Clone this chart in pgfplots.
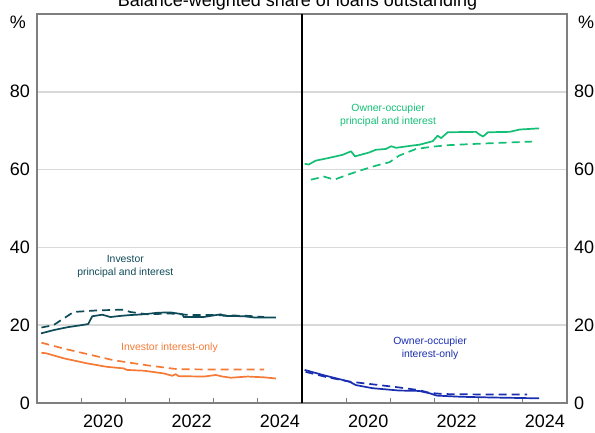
\documentclass[border=0pt]{standalone}
\usepackage{fontspec}
\setmainfont{Liberation Sans}
\usepackage{pgfplots}
\pgfplotsset{compat=1.18}

\definecolor{invpi}{HTML}{0E4A58}
\definecolor{invio}{HTML}{F47A36}
\definecolor{oopi}{HTML}{12BF74}
\definecolor{ooio}{HTML}{1A2EB0}
\definecolor{axgray}{HTML}{7F7F7F}
\definecolor{gridgray}{HTML}{D9D9D9}

\pgfplotsset{
  panel/.style={
    scale only axis, width=132.5pt, height=194.5pt,
    xmin=2019, xmax=2025, ymin=0, ymax=100,
    clip mode=individual,
    xtick={2020,...,2024}, xticklabels={},
    extra x ticks={2020.5,2022.5,2024.5},
    extra x tick labels={2020,2022,2024},
    extra x tick style={major tick length=0pt},
    xtick pos=left, tick align=inside, major tick length=2.5pt,
    xtick style={color=axgray, line width=0.5pt},
    ytick={0,20,...,80}, ytick style={draw=none},
    ymajorgrids, grid style={line width=0.8pt, color=gridgray},
    axis line style={axgray, line width=0.6pt},
    tick label style={font=\fontsize{9}{10}\selectfont},
    xticklabel style={yshift=-2.5pt},
    /pgf/number format/assume math mode=true,
  },
}
\tikzset{
  solid line/.style={line width=0.85pt, line join=round},
  dash line/.style={line width=0.85pt, dash pattern=on 4pt off 2.5pt},
  note/.style={font=\fontsize{5.2}{6.4}\selectfont, align=center},
}

\begin{document}
\begin{tikzpicture}
% left panel: investors
\begin{axis}[panel, at={(18.5pt,15pt)}, anchor=south west, yticklabel pos=left]
  \addplot[invpi, solid line] coordinates {
    (2019.09,17.9) (2019.4,18.8) (2019.7,19.5) (2020.0,20.0) (2020.16,20.3)
    (2020.25,22.3) (2020.48,22.7) (2020.66,22.1) (2020.9,22.4) (2021.11,22.6)
    (2021.41,22.8) (2021.73,23.2) (2022.02,23.3) (2022.30,22.8) (2022.32,22.1)
    (2022.77,22.1) (2023.16,22.8) (2023.23,22.4) (2023.68,22.3) (2023.91,22.0)
    (2024.41,22.0)
  };
  \addplot[invpi, dash line] coordinates {
    (2019.1,19.4) (2019.37,20.0) (2019.6,21.7) (2019.83,23.4) (2020.36,23.8)
    (2020.96,24.0) (2021.11,23.4) (2021.49,22.8) (2022.02,23.0) (2022.48,22.6)
    (2023.0,22.6) (2023.77,22.4) (2024.14,22.1)
  };
  \addplot[invio, solid line] coordinates {
    (2019.1,12.9) (2019.2,12.8) (2019.6,11.5) (2020.13,10.2) (2020.58,9.3)
    (2020.96,8.9) (2021.04,8.5) (2021.42,8.3) (2021.87,7.6) (2022.06,7.0)
    (2022.14,7.4) (2022.21,6.9) (2022.78,6.8) (2023.05,7.2) (2023.2,6.8)
    (2023.39,6.5) (2023.77,6.8) (2024.14,6.6) (2024.41,6.3)
  };
  \addplot[invio, dash line] coordinates {
    (2019.1,15.5) (2019.6,14.0) (2020.13,12.6) (2020.73,11.0) (2021.49,9.7)
    (2022.17,8.7) (2023.0,8.6) (2024.14,8.6)
  };
  \node[note, text=invpi] at (axis cs:2021.0,35) {Investor\\principal and interest};
  \node[note, text=invio] at (axis cs:2022.0,14.1) {Investor interest-only};
  \node[anchor=east, font=\fontsize{9}{10}\selectfont] at (rel axis cs:0,0.979) [xshift=-2pt] {\%};
\end{axis}
% right panel: owner-occupiers
\begin{axis}[panel, at={(151pt,15pt)}, anchor=south west, yticklabel pos=right]
  \addplot[oopi, solid line] coordinates {
    (2019.06,61.5) (2019.15,61.3) (2019.31,62.3) (2019.61,63.0) (2019.92,63.8)
    (2020.11,64.7) (2020.20,63.4) (2020.52,64.4) (2020.67,65.1) (2020.9,65.3)
    (2021.02,66.0) (2021.13,65.6) (2021.51,66.2) (2021.66,66.4) (2021.96,67.3)
    (2022.07,68.7) (2022.15,68.1) (2022.30,69.6) (2022.94,69.7) (2023.02,69.0)
    (2023.10,68.5) (2023.21,69.6) (2023.70,69.7) (2023.93,70.3) (2024.37,70.6)
  };
  \addplot[oopi, dash line] coordinates {
    (2019.2,57.4) (2019.5,58.2) (2019.73,57.4) (2019.99,58.5) (2020.3,59.7)
    (2020.67,61.0) (2020.98,61.9) (2021.2,63.6) (2021.58,65.3) (2021.96,65.9)
    (2022.34,66.3) (2023.10,66.7) (2024.21,67.2)
  };
  \addplot[ooio, solid line] coordinates {
    (2019.06,8.5) (2019.54,7.0) (2020.07,5.5) (2020.22,4.6) (2020.6,3.8)
    (2021.2,3.2) (2021.65,3.1) (2021.89,2.5) (2022.05,1.9) (2022.6,1.6)
    (2023.35,1.4) (2024.37,1.2)
  };
  \addplot[ooio, dash line] coordinates {
    (2019.08,8.0) (2019.54,6.7) (2020.07,5.5) (2020.3,5.2) (2021.2,4.0)
    (2021.65,3.3) (2021.89,2.6) (2022.2,2.3) (2023.0,2.2) (2024.1,2.2)
  };
  \node[note, text=oopi] at (axis cs:2020.95,74) {Owner-occupier\\principal and interest};
  \node[note, text=ooio] at (axis cs:2021.9,14) {Owner-occupier\\interest-only};
  \node[anchor=west, font=\fontsize{9}{10}\selectfont] at (rel axis cs:1,0.979) [xshift=2pt] {\%};
  \draw[black, line width=0.6pt] (rel axis cs:0,0) -- (rel axis cs:0,1);
\end{axis}
\node[anchor=base, font=\fontsize{9}{10}\selectfont] at (148.75pt,213.25pt)
  {Balance-weighted share of loans outstanding};
\pgfresetboundingbox
\useasboundingbox (0,0) rectangle (297.5pt,216.5pt);
\end{tikzpicture}
\end{document}
